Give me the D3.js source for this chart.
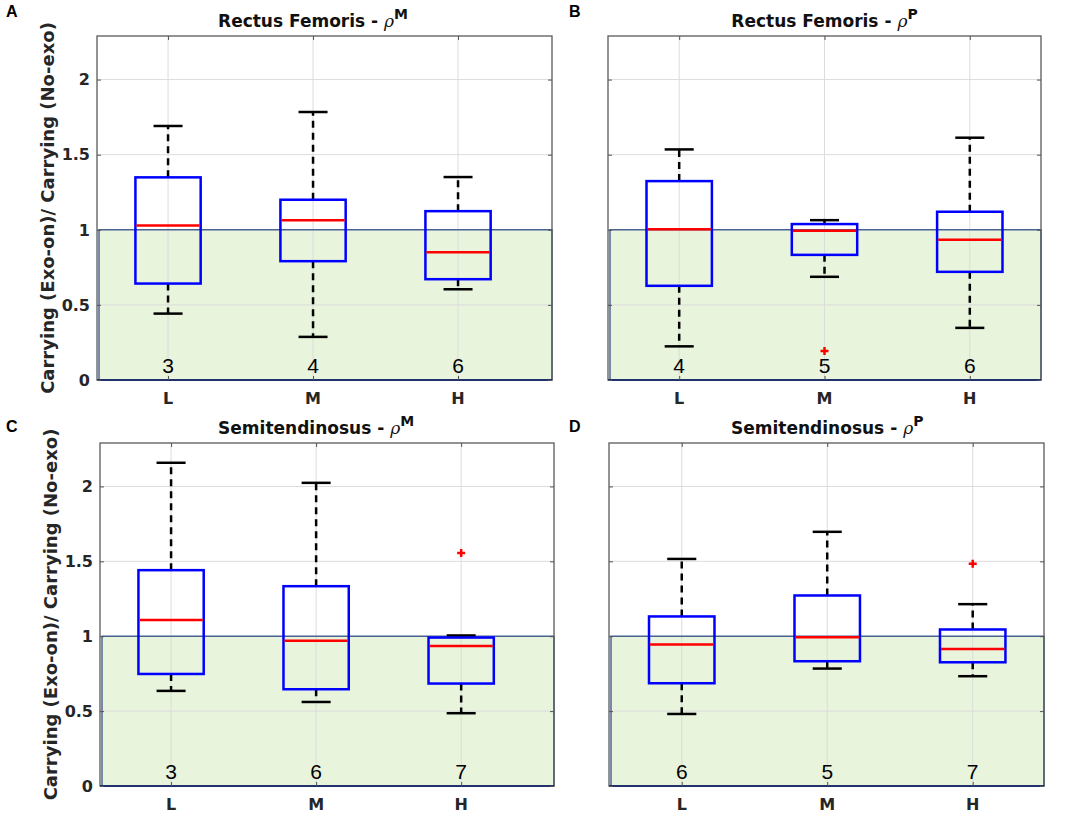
<!DOCTYPE html>
<html>
<head>
<meta charset="utf-8">
<script src="https://cdn.jsdelivr.net/npm/d3@7/dist/d3.min.js"></script>
<style>
  html, body { margin: 0; padding: 0; background: #fff; }
  svg { display: block; }
</style>
</head>
<body>
<svg id="chart" width="1084" height="816"></svg>
<script>
// ---------- data ----------
const categories = ["L", "M", "H"];
const yTicks = [0, 0.5, 1, 1.5, 2];
const yTickLabels = ["0", "0.5", "1", "1.5", "2"];
const panelLetters = ["A", "B", "C", "D"];
const panelMuscles = ["Rectus Femoris", "Rectus Femoris", "Semitendinosus", "Semitendinosus"];
const panelSupers = ["M", "P", "M", "P"];

// per panel: [whiskerLow, Q1, median, Q3, whiskerHigh] for L, M, H
const statsA = [[0.442, 0.642, 1.029, 1.349, 1.691], [0.287, 0.791, 1.064, 1.200, 1.784], [0.604, 0.671, 0.851, 1.124, 1.351]];
const statsB = [[0.224, 0.627, 1.004, 1.324, 1.535], [0.687, 0.833, 0.993, 1.038, 1.064], [0.347, 0.720, 0.933, 1.120, 1.613]];
const statsC = [[0.635, 0.748, 1.109, 1.441, 2.158], [0.561, 0.646, 0.969, 1.334, 2.024], [0.486, 0.684, 0.935, 0.991, 1.005]];
const statsD = [[0.481, 0.686, 0.945, 1.132, 1.516], [0.784, 0.833, 0.993, 1.272, 1.697], [0.733, 0.826, 0.915, 1.045, 1.214]];

// outliers: [categoryIndex, value]
const outliersA = [];
const outliersB = [[1, 0.193]];
const outliersC = [[2, 1.555]];
const outliersD = [[2, 1.483]];

// sample counts
const countsA = [3, 4, 6];
const countsB = [4, 5, 6];
const countsC = [3, 6, 7];
const countsD = [6, 5, 7];

const threshold = 1;

// ---------- layout ----------
const layout = [
  { left: 97,  right: 552,  top: 36,  bottom: 380, xMin: 0.51, xMax: 3.648, yLabel: true },
  { left: 608, right: 1041, top: 36,  bottom: 380, xMin: 0.51, xMax: 3.49,  yLabel: false },
  { left: 100, right: 554,  top: 443, bottom: 786, xMin: 0.51, xMax: 3.64,  yLabel: true },
  { left: 609, right: 1044, top: 443, bottom: 786, xMin: 0.50, xMax: 3.49,  yLabel: false }
];
const allStats = [statsA, statsB, statsC, statsD];
const allOutliers = [outliersA, outliersB, outliersC, outliersD];
const allCounts = [countsA, countsB, countsC, countsD];
const yMax = 2.29;

const svg = d3.select("#chart");
const boldFont = "'DejaVu Sans', sans-serif";

layout.forEach((L, p) => {
  const x = d3.scaleLinear().domain([L.xMin, L.xMax]).range([L.left, L.right]);
  const y = d3.scaleLinear().domain([0, yMax]).range([L.bottom, L.top]);
  const catX = c => x(categories.indexOf(c) + 1);
  const g = svg.append("g");

  // green region below threshold
  g.append("rect")
    .attr("x", L.left + 2).attr("y", y(threshold))
    .attr("width", L.right - L.left - 2).attr("height", y(0) - y(threshold))
    .attr("fill", "#e8f4dc");

  // grid
  g.selectAll(".gy").data(yTicks).enter().append("line")
    .attr("x1", L.left).attr("x2", L.right)
    .attr("y1", d => y(d)).attr("y2", d => y(d))
    .attr("stroke", "#dcdcdc").attr("stroke-width", 1);
  g.selectAll(".gx").data(categories).enter().append("line")
    .attr("x1", d => catX(d)).attr("x2", d => catX(d))
    .attr("y1", L.top).attr("y2", L.bottom)
    .attr("stroke", "#dcdcdc").attr("stroke-width", 1);

  // threshold rect border
  g.append("rect")
    .attr("x", L.left + 2).attr("y", y(threshold))
    .attr("width", L.right - L.left - 2).attr("height", y(0) - y(threshold))
    .attr("fill", "none").attr("stroke", "#34508a").attr("stroke-width", 1.3);

  // axes box
  g.append("rect")
    .attr("x", L.left).attr("y", L.top)
    .attr("width", L.right - L.left).attr("height", L.bottom - L.top)
    .attr("fill", "none").attr("stroke", "#5a5a5a").attr("stroke-width", 1.3);
  g.append("line")
    .attr("x1", L.left).attr("x2", L.right)
    .attr("y1", L.bottom).attr("y2", L.bottom)
    .attr("stroke", "#22336b").attr("stroke-width", 2);

  // axis ticks (inward)
  const yAxisL = d3.axisRight(y).tickValues(yTicks).tickSize(4).tickFormat("");
  const yAxisR = d3.axisLeft(y).tickValues(yTicks).tickSize(4).tickFormat("");
  g.append("g").attr("transform", `translate(${L.left},0)`).call(yAxisL)
    .call(a => a.select(".domain").remove()).selectAll("line").attr("stroke", "#555");
  g.append("g").attr("transform", `translate(${L.right},0)`).call(yAxisR)
    .call(a => a.select(".domain").remove()).selectAll("line").attr("stroke", "#555");
  const xAxisB = d3.axisTop(x).tickValues([1, 2, 3]).tickSize(4).tickFormat("");
  const xAxisT = d3.axisBottom(x).tickValues([1, 2, 3]).tickSize(4).tickFormat("");
  g.append("g").attr("transform", `translate(0,${L.bottom})`).call(xAxisB)
    .call(a => a.select(".domain").remove()).selectAll("line").attr("stroke", "#555");
  g.append("g").attr("transform", `translate(0,${L.top})`).call(xAxisT)
    .call(a => a.select(".domain").remove()).selectAll("line").attr("stroke", "#555");

  // y tick labels (left panels only)
  if (L.yLabel) {
    g.selectAll(".yl").data(yTicks).enter().append("text")
      .attr("x", L.left - 7).attr("y", d => y(d))
      .attr("dy", "0.36em").attr("text-anchor", "end")
      .attr("font-family", boldFont).attr("font-weight", "bold").attr("font-size", 16)
      .attr("fill", "#262626")
      .text((d, i) => yTickLabels[i]);
    g.append("text")
      .attr("transform", `translate(${L.left - 49},${(L.top + L.bottom) / 2}) rotate(-90)`)
      .attr("text-anchor", "middle").attr("dy", "0.36em")
      .attr("font-family", boldFont).attr("font-weight", "bold").attr("font-size", 18)
      .attr("fill", "#262626")
      .text("Carrying (Exo-on)/ Carrying (No-exo)");
  }

  // x tick labels
  g.selectAll(".xl").data(categories).enter().append("text")
    .attr("x", d => catX(d)).attr("y", L.bottom + 18)
    .attr("dy", "0.36em").attr("text-anchor", "middle")
    .attr("font-family", boldFont).attr("font-weight", "bold").attr("font-size", 16)
    .attr("fill", "#262626")
    .text(d => d);

  // title (centred over the middle category)
  const t = g.append("text")
    .attr("x", x(2)).attr("y", L.top - 9)
    .attr("text-anchor", "middle")
    .attr("font-family", boldFont).attr("font-weight", "bold").attr("font-size", 17)
    .attr("fill", "#111");
  t.append("tspan").text(panelMuscles[p] + " - ");
  t.append("tspan").attr("font-family", "'DejaVu Serif', serif").attr("font-style", "italic")
    .attr("font-weight", "normal").attr("font-size", 17).text("ρ");
  t.append("tspan").attr("dy", -8).attr("font-size", 14).text(panelSupers[p]);

  // panel letter
  g.append("text")
    .attr("x", p % 2 === 0 ? 6 : 569).attr("y", p < 2 ? 17 : 432)
    .attr("font-family", "'Liberation Sans', Arial, sans-serif").attr("font-weight", "bold")
    .attr("font-size", 16).attr("fill", "#000")
    .text(panelLetters[p]);

  // boxplots
  const boxW = 0.45, capW = 0.2;
  allStats[p].forEach((s, i) => {
    const cx = x(i + 1);
    const bw = x(boxW) - x(0), cw = x(capW) - x(0);
    const [lo, q1, med, q3, hi] = s;
    // whiskers dashed
    g.append("line").attr("x1", cx).attr("x2", cx).attr("y1", y(q3)).attr("y2", y(hi))
      .attr("stroke", "#000").attr("stroke-width", 2.5).attr("stroke-dasharray", "7,5");
    g.append("line").attr("x1", cx).attr("x2", cx).attr("y1", y(q1)).attr("y2", y(lo))
      .attr("stroke", "#000").attr("stroke-width", 2.5).attr("stroke-dasharray", "7,5");
    // caps
    [lo, hi].forEach(v => {
      g.append("line").attr("x1", cx - cw / 2).attr("x2", cx + cw / 2)
        .attr("y1", y(v)).attr("y2", y(v))
        .attr("stroke", "#000").attr("stroke-width", 2.5);
    });
    // box
    g.append("rect").attr("x", cx - bw / 2).attr("y", y(q3))
      .attr("width", bw).attr("height", y(q1) - y(q3))
      .attr("fill", "none").attr("stroke", "#0000ff").attr("stroke-width", 2.5);
    // median
    g.append("line").attr("x1", cx - bw / 2 + 1).attr("x2", cx + bw / 2 - 1)
      .attr("y1", y(med)).attr("y2", y(med))
      .attr("stroke", "#ff0000").attr("stroke-width", 2.5);
  });

  // outliers
  allOutliers[p].forEach(([ci, v]) => {
    const cx = x(ci + 1), cy = y(v);
    g.append("path").attr("d", `M${cx - 4},${cy}H${cx + 4}M${cx},${cy - 4}V${cy + 4}`)
      .attr("stroke", "#ff0000").attr("stroke-width", 2.5);
  });

  // counts
  allCounts[p].forEach((n, i) => {
    g.append("text").attr("x", x(i + 1)).attr("y", L.bottom - 15)
      .attr("dy", "0.36em").attr("text-anchor", "middle")
      .attr("font-family", "'Liberation Sans', Arial, sans-serif").attr("font-size", 21)
      .attr("fill", "#000").text(n);
  });
});
</script>
</body>
</html>
